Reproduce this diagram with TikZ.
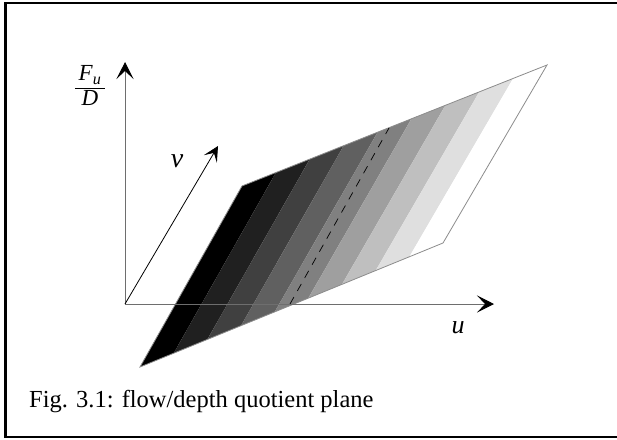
\documentclass[tikz,border=0pt]{standalone}
\usepackage{fontspec}
\setmainfont{Liberation Serif}
\usetikzlibrary{arrows.meta, calc}
\definecolor{axisgray}{RGB}{110,110,110}
\definecolor{edgegray}{RGB}{140,140,140}

\begin{document}
\begin{tikzpicture}[
    x=1pt, y=-1pt,
    axis/.style={axisgray, line width=1pt, -{Stealth[length=17pt, width=17pt, inset=8pt, black]}},
    vaxis/.style={black, line width=0.8pt, -{Stealth[length=15pt, width=15pt, inset=7pt]}},
    axislabel/.style={font=\fontsize{26}{30}\selectfont\itshape, inner sep=0pt}
]
    \useasboundingbox (0,0) rectangle (617,439);
    % frame
    \draw[line width=2.5pt] (650,3) -- (5.5,3) -- (5.5,437) -- (650,437);

    % corners of the plane
    \coordinate (p1) at (140,367);
    \coordinate (p2) at (242,186);
    \coordinate (p3) at (547,65);
    \coordinate (p4) at (443,243);

    % grey bands, dark to light
    \foreach \k in {0,...,8} {
        \pgfmathsetmacro{\tone}{100-12.5*\k}
        \pgfmathsetmacro{\ta}{\k/9}
        \pgfmathsetmacro{\tb}{(\k+1)/9}
        \fill[black!\tone] ($(p1)!\ta!(p4)$) -- ($(p1)!\tb!(p4)$)
            -- ($(p2)!\tb!(p3)$) -- ($(p2)!\ta!(p3)$) -- cycle;
    }
    \draw[edgegray, line width=0.8pt] (p1) -- (p2) -- (p3) -- (p4) -- cycle;

    % dashed line on the plane
    \coordinate (q1) at (290,304);
    \coordinate (q2) at (389,128);
    \draw[black, line width=0.7pt, dash pattern=on 8pt off 7pt] (q1) -- (q2);

    % axes
    \coordinate (O) at (125,304);
    \coordinate (uend) at (494,304);
    \coordinate (fend) at (125,62);
    \coordinate (vend) at (218,146);
    \draw[axis] (O) -- (uend);
    \draw[axis] (O) -- (fend);
    \draw[vaxis] (O) -- (vend);

    \node[axislabel] (ulab) at (458,328) {u};
    \node[axislabel, font=\fontsize{28}{30}\selectfont\itshape] (vlab) at (177,161) {v};
    \node[axislabel, font=\fontsize{23}{25}\selectfont\itshape] (flab) at (90,88)
        {\begin{tabular}{@{\,}c@{\,}}F\textsubscript{u}\\\hline D\end{tabular}};

    \node[anchor=base west, font=\fontsize{24.5}{28}\selectfont, inner sep=0pt] (caption)
        at (29,407) {Fig. 3.1: flow/depth quotient plane};
\end{tikzpicture}
\end{document}
